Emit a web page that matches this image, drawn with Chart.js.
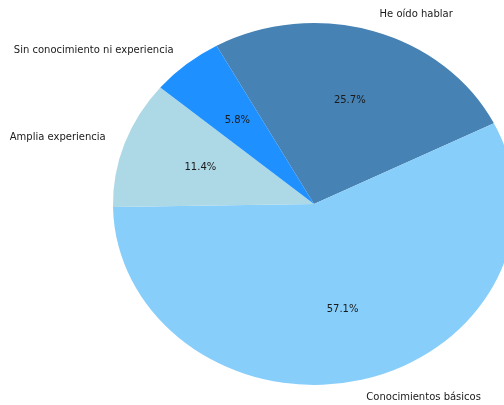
<!DOCTYPE html>
<html>
<head>
<meta charset="utf-8">
<script src="https://cdn.jsdelivr.net/npm/chart.js@4"></script>
<style>
  html, body { margin: 0; padding: 0; background: #fff; }
  #wrap { width: 504px; height: 405px; overflow: hidden; position: relative; }
  #pie { position: absolute; left: 0; top: 0; }
</style>
</head>
<body>
<div id="wrap"><canvas id="pie" width="540" height="420"></canvas></div>
<script>
// slices, clockwise from the top-left edge of "He oído hablar"
const categories = ['He oído hablar', 'Conocimientos básicos', 'Amplia experiencia', 'Sin conocimiento ni experiencia'];
const shares = [25.7, 57.1, 11.4, 5.8];
const sliceColors = ['#4682B4', '#87CEFA', '#ADD8E6', '#1E90FF'];

// the pie is drawn a little flattened vertically
const squash = 0.9;

const flatten = {
    id: 'flatten',
    beforeDatasetsDraw(chart) {
        const arc = chart.getDatasetMeta(0).data[0];
        const ctx = chart.ctx;
        ctx.save();
        ctx.translate(arc.x, arc.y);
        ctx.scale(1, squash);
        ctx.translate(-arc.x, -arc.y);
    },
    afterDatasetsDraw(chart) {
        chart.ctx.restore();
    }
};

// outer category labels and inner percentages
const pieLabels = {
    id: 'pieLabels',
    afterDraw(chart) {
        const ctx = chart.ctx;
        const total = shares.reduce((a, b) => a + b, 0);
        ctx.save();
        ctx.font = '10px "DejaVu Sans"';
        ctx.fillStyle = '#1a1a1a';
        ctx.textBaseline = 'middle';
        chart.getDatasetMeta(0).data.forEach((arc, i) => {
            const mid = (arc.startAngle + arc.endAngle) / 2;
            const r = arc.outerRadius;
            const cos = Math.cos(mid), sin = Math.sin(mid);

            ctx.textAlign = cos < 0 ? 'right' : 'left';
            ctx.fillText(categories[i], arc.x + 1.1 * r * cos, arc.y + 1.1 * r * sin * squash);

            ctx.textAlign = 'center';
            const pct = (shares[i] / total * 100).toFixed(1) + '%';
            ctx.fillText(pct, arc.x + 0.6 * r * cos, arc.y + 0.6 * r * sin * squash);
        });
        ctx.restore();
    }
};

const chart = new Chart(document.getElementById('pie'), {
    type: 'pie',
    data: {
        labels: categories,
        datasets: [{
            data: shares,
            backgroundColor: sliceColors,
            borderWidth: 0
        }]
    },
    options: {
        responsive: false,
        animation: false,
        rotation: -29,
        layout: { padding: { left: 113, right: 25, top: 3, bottom: 15 } },
        plugins: {
            legend: { display: false },
            tooltip: { enabled: false }
        }
    },
    plugins: [flatten, pieLabels]
});
</script>
</body>
</html>
